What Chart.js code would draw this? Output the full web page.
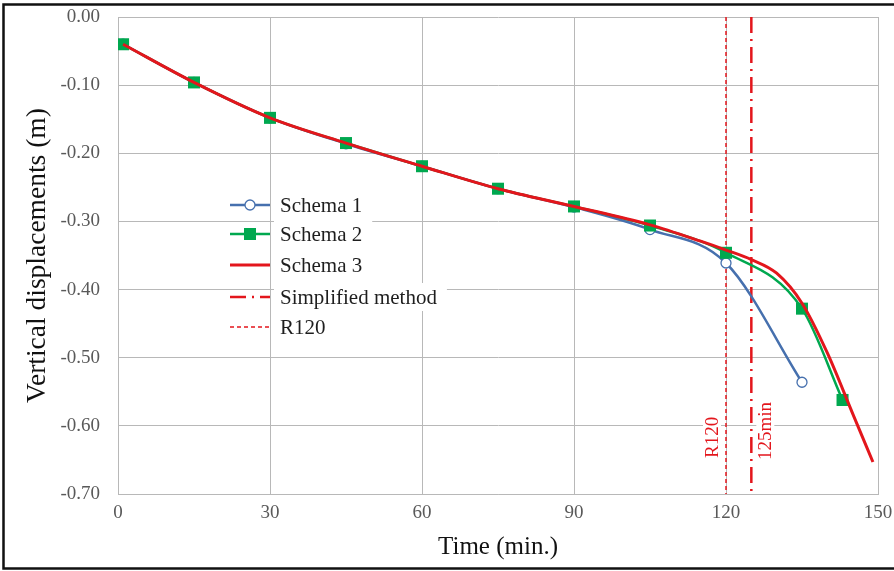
<!DOCTYPE html>
<html>
<head>
<meta charset="utf-8">
<script src="https://cdn.jsdelivr.net/npm/chart.js@4"></script>
<style>
  html, body { margin: 0; padding: 0; background: #fff; overflow: hidden; }
  #wrap { position: relative; width: 894px; height: 571px; }
</style>
</head>
<body>
<div id="wrap"><canvas id="dispChart"></canvas></div>
<script>
// values
const schema1Time = [1, 15, 30, 45, 60, 75, 90, 105, 120, 135];
const schema1Disp = [-0.040, -0.096, -0.148, -0.186, -0.219, -0.252, -0.279, -0.312, -0.361, -0.536];

const schema2Time = [1, 15, 30, 45, 60, 75, 90, 105, 120, 135, 143];
const schema2Disp = [-0.040, -0.096, -0.148, -0.185, -0.219, -0.252, -0.278, -0.306, -0.346, -0.428, -0.562];

const schema3Time = [1, 15, 30, 45, 60, 75, 90, 105, 115, 120, 125, 130, 135, 140, 145, 149];
const schema3Disp = [-0.040, -0.096, -0.148, -0.185, -0.219, -0.252, -0.278, -0.305, -0.329, -0.342, -0.356, -0.376, -0.420, -0.493, -0.582, -0.653];

const r120Time = 120;
const simplifiedTime = 125;

const xTicks = [0, 30, 60, 90, 120, 150];
const yTicks = [0, -0.1, -0.2, -0.3, -0.4, -0.5, -0.6, -0.7];

const legendLabels = ['Schema 1', 'Schema 2', 'Schema 3', 'Simplified method', 'R120'];

const SERIF = '"Liberation Serif", "Times New Roman", serif';
const BLUE = '#4670AE';
const GREEN = '#00A84F';
const RED = '#E3161C';

function pts(xs, ys) {
    return xs.map((x, i) => ({ x: x, y: ys[i] }));
}

// Chart.js draws lower `order` on top
const datasets = [
    {
        label: legendLabels[2],
        data: pts(schema3Time, schema3Disp),
        borderColor: RED,
        borderWidth: 3,
        pointRadius: 0,
        cubicInterpolationMode: 'monotone',
        order: 0
    },
    {
        label: legendLabels[1],
        data: pts(schema2Time, schema2Disp),
        borderColor: GREEN,
        backgroundColor: GREEN,
        borderWidth: 2.5,
        pointStyle: 'rect',
        pointRadius: 8.5,
        pointBorderWidth: 0,
        cubicInterpolationMode: 'monotone',
        order: 1
    },
    {
        label: legendLabels[0],
        data: pts(schema1Time, schema1Disp),
        borderColor: BLUE,
        backgroundColor: '#fff',
        borderWidth: 2.5,
        pointStyle: 'circle',
        pointRadius: 5,
        pointBorderWidth: 1.3,
        cubicInterpolationMode: 'monotone',
        order: 2
    },
    {
        label: legendLabels[3],
        data: [{ x: simplifiedTime, y: 0 }, { x: simplifiedTime, y: -0.7 }],
        borderColor: RED,
        borderWidth: 2.5,
        borderDash: [16, 6, 2, 6],
        pointRadius: 0,
        order: 3
    },
    {
        label: legendLabels[4],
        data: [{ x: r120Time, y: 0 }, { x: r120Time, y: -0.7 }],
        borderColor: RED,
        borderWidth: 1.5,
        borderDash: [4, 3],
        pointRadius: 0,
        order: 4
    }
];

// legend inside the plot + the vertical line labels + outer frame
const extrasPlugin = {
    id: 'extras',
    afterDatasetsDraw(chart) {
        const ctx = chart.ctx;
        const xs = chart.scales.x;
        ctx.save();

        // rotated labels next to the vertical lines
        ctx.font = '19px ' + SERIF;
        ctx.textBaseline = 'middle';
        ctx.textAlign = 'left';
        const vlabels = [
            { text: 'R120', x: xs.getPixelForValue(r120Time) - 14, y: 458 },
            { text: '125min', x: xs.getPixelForValue(simplifiedTime) + 14, y: 460 }
        ];
        vlabels.forEach(l => {
            ctx.save();
            ctx.translate(l.x, l.y);
            ctx.rotate(-Math.PI / 2);
            const w = ctx.measureText(l.text).width;
            ctx.fillStyle = '#fff';
            ctx.fillRect(-2, -9, w + 4, 18);
            ctx.fillStyle = RED;
            ctx.fillText(l.text, 0, 1);
            ctx.restore();
        });

        // legend
        const rowY = [205, 234, 265, 297, 327];
        const x0 = 230, x1 = 270, tx = 280;
        ctx.font = '21px ' + SERIF;
        legendLabels.forEach((txt, i) => {
            const y = rowY[i];
            const w = ctx.measureText(txt).width;
            ctx.fillStyle = '#fff';
            ctx.fillRect(tx - 6, y - 14, w + 16, 28);
            ctx.fillStyle = '#1e1e1e';
            ctx.textAlign = 'left';
            ctx.fillText(txt, tx, y + 1);
        });
        const drawSample = (color, width, dash) => {
            ctx.strokeStyle = color;
            ctx.lineWidth = width;
            ctx.setLineDash(dash);
        };
        // Schema 1
        drawSample(BLUE, 2.5, []);
        ctx.beginPath(); ctx.moveTo(x0, rowY[0]); ctx.lineTo(x1, rowY[0]); ctx.stroke();
        ctx.fillStyle = '#fff'; ctx.lineWidth = 1.3;
        ctx.beginPath(); ctx.arc((x0 + x1) / 2, rowY[0], 5, 0, Math.PI * 2); ctx.fill(); ctx.stroke();
        // Schema 2
        drawSample(GREEN, 2.5, []);
        ctx.beginPath(); ctx.moveTo(x0, rowY[1]); ctx.lineTo(x1, rowY[1]); ctx.stroke();
        ctx.fillStyle = GREEN;
        ctx.fillRect((x0 + x1) / 2 - 6, rowY[1] - 6, 12, 12);
        // Schema 3
        drawSample(RED, 3, []);
        ctx.beginPath(); ctx.moveTo(x0, rowY[2]); ctx.lineTo(x1, rowY[2]); ctx.stroke();
        // Simplified method
        drawSample(RED, 2.5, [16, 6, 2, 6]);
        ctx.beginPath(); ctx.moveTo(x0, rowY[3]); ctx.lineTo(x1, rowY[3]); ctx.stroke();
        // R120
        drawSample(RED, 1.5, [4, 3]);
        ctx.beginPath(); ctx.moveTo(x0, rowY[4]); ctx.lineTo(x1, rowY[4]); ctx.stroke();

        ctx.restore();
    },
    afterDraw(chart) {
        const ctx = chart.ctx;
        ctx.save();
        ctx.strokeStyle = '#111';
        ctx.lineWidth = 2.5;
        ctx.strokeRect(3.5, 4.5, 920, 564);
        ctx.restore();
    }
};

const ctx = document.getElementById('dispChart').getContext('2d');
new Chart(ctx, {
    type: 'line',
    data: { datasets: datasets },
    plugins: [extrasPlugin],
    options: {
        responsive: true,
        maintainAspectRatio: false,
        animation: false,
        events: [],
        layout: { autoPadding: false, padding: { left: 0, top: 17, right: 16, bottom: 0 } },
        plugins: {
            legend: { display: false },
            tooltip: { enabled: false }
        },
        scales: {
            x: {
                type: 'linear',
                min: 0,
                max: 150,
                afterFit: s => {
                    s.height = 77;
                    s.paddingLeft = 0;
                    s.paddingRight = 0;
                },
                afterBuildTicks: s => { s.ticks = xTicks.map(v => ({ value: v })); },
                grid: { color: '#b8b8b8', lineWidth: 1, drawTicks: false },
                border: { color: '#b8b8b8' },
                ticks: {
                    padding: 8,
                    color: '#595959',
                    font: { family: SERIF, size: 19 },
                    maxRotation: 0
                },
                title: {
                    display: true,
                    text: 'Time (min.)',
                    color: '#111',
                    font: { family: SERIF, size: 25 },
                    padding: { top: 0, bottom: 9 }
                }
            },
            y: {
                min: -0.7,
                max: 0,
                afterFit: s => {
                    s.width = 118;
                    s.paddingTop = 0;
                    s.paddingBottom = 0;
                },
                afterBuildTicks: s => { s.ticks = yTicks.map(v => ({ value: v })); },
                grid: { color: '#b8b8b8', lineWidth: 1, drawTicks: false },
                border: { color: '#b8b8b8' },
                ticks: {
                    padding: 18,
                    color: '#595959',
                    font: { family: SERIF, size: 19 },
                    callback: v => v.toFixed(2)
                },
                title: {
                    display: true,
                    text: 'Vertical displacements (m)',
                    color: '#111',
                    font: { family: SERIF, size: 27.5 },
                    padding: { top: 21, bottom: 0 }
                }
            }
        }
    }
});
</script>
</body>
</html>
